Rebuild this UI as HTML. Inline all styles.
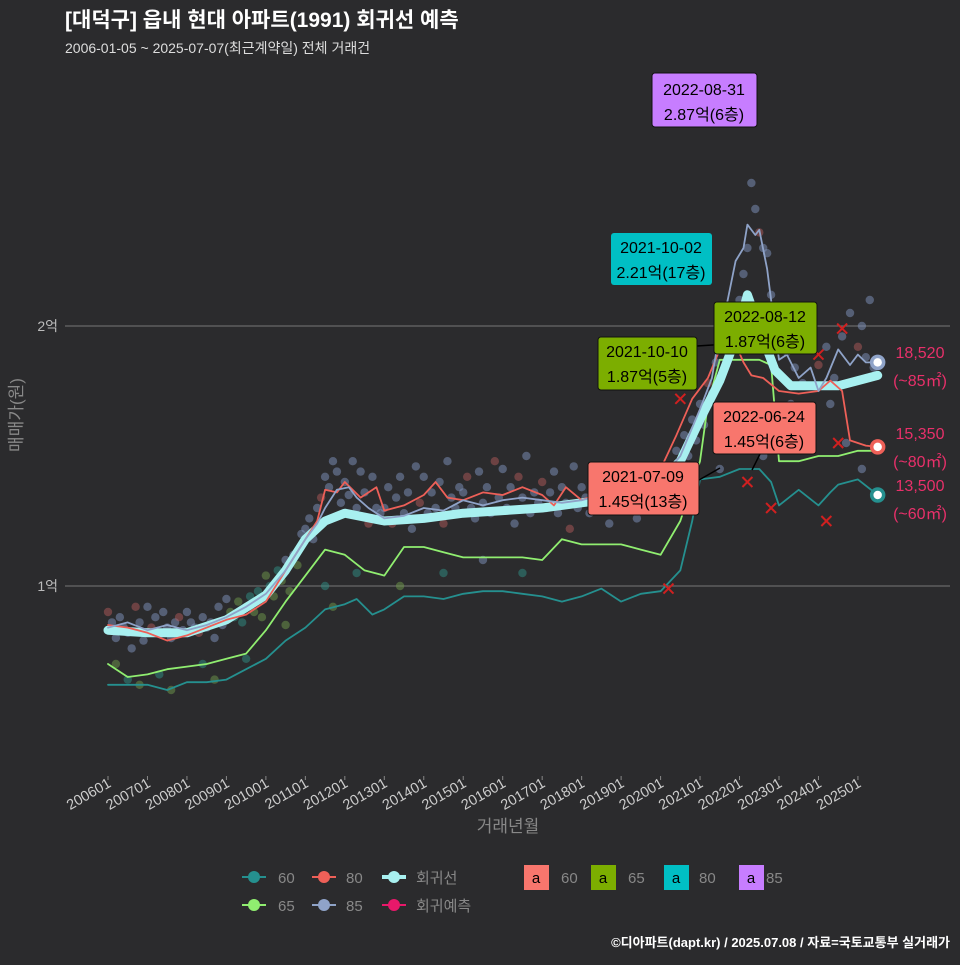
<!DOCTYPE html>
<html><head><meta charset="utf-8">
<style>
html,body{margin:0;padding:0;background:#2b2b2d;}
body{width:960px;height:960px;overflow:hidden;font-family:"Liberation Sans","Noto Sans CJK KR",sans-serif;}
</style></head>
<body>
<svg id="chart" width="960" height="960" xmlns="http://www.w3.org/2000/svg" style="font-family:'Liberation Sans','Noto Sans CJK KR',sans-serif">
<rect width="960" height="960" fill="#2b2b2d"/>
<text x="65" y="27" fill="#ffffff" font-size="21" font-weight="bold">[대덕구] 읍내 현대 아파트(1991) 회귀선 예측</text>
<text x="65" y="53" fill="#dddddd" font-size="14">2006-01-05 ~ 2025-07-07(최근계약일) 전체 거래건</text>
<text transform="translate(22,415) rotate(-90)" text-anchor="middle" fill="#888" font-size="17">매매가(원)</text>
<text x="508" y="832" text-anchor="middle" fill="#888" font-size="17">거래년월</text>
<g id="grid"></g>
<g id="plot"></g>
<g id="xaxis"></g>
<text x="950" y="947" text-anchor="end" fill="#fff" font-size="13" font-weight="bold">©디아파트(dapt.kr) / 2025.07.08 / 자료=국토교통부 실거래가</text>
</svg>
<script>
// ---- data (values in 억 KRW, time in decimal years) ----
const tickLabels=["200601","200701","200801","200901","201001","201101","201201","201301","201401","201501","201601","201701","201801","201901","202001","202101","202201","202301","202401","202501"];
const yTicks=[1,2];
const yTickLabels=["1억","2억"];
const tReg=[2006,2007,2008,2009,2010,2010.5,2011,2011.5,2012,2013,2014,2015,2016,2017,2018,2019,2020,2020.5,2021,2021.5,2021.9,2022.2,2022.6,2022.9,2023.3,2024,2024.5,2025,2025.5];
const vReg=[0.83,0.82,0.82,0.87,0.965,1.06,1.18,1.25,1.28,1.25,1.26,1.28,1.29,1.30,1.32,1.34,1.41,1.48,1.64,1.79,1.95,2.12,1.95,1.83,1.77,1.77,1.77,1.79,1.81];
const t85=[2006,2006.5,2007,2007.5,2008,2008.5,2009,2009.5,2010,2010.5,2011,2011.3,2011.5,2011.8,2012.1,2012.3,2012.6,2013,2013.5,2014,2014.5,2015,2015.5,2016,2016.5,2017,2017.5,2018,2018.5,2019,2019.5,2020,2020.5,2021,2021.3,2021.5,2021.7,2021.9,2022.1,2022.2,2022.4,2022.5,2022.7,2022.8,2023,2023.2,2023.5,2023.8,2024,2024.2,2024.5,2024.8,2025,2025.2,2025.5];
const v85=[0.84,0.86,0.83,0.85,0.83,0.85,0.88,0.92,0.97,1.06,1.18,1.24,1.30,1.37,1.38,1.34,1.30,1.26,1.27,1.30,1.29,1.33,1.31,1.33,1.34,1.33,1.32,1.33,1.35,1.34,1.37,1.41,1.50,1.68,1.80,1.98,2.10,2.25,2.30,2.39,2.35,2.37,2.22,2.10,1.87,1.89,1.80,1.84,1.75,1.80,1.91,1.85,1.89,1.86,1.86];
const t80=[2006,2006.5,2007,2007.5,2008,2008.5,2009,2009.5,2010,2010.5,2011,2011.3,2011.5,2011.8,2012,2012.4,2012.8,2013,2013.5,2014,2014.3,2014.6,2015,2015.5,2016,2016.5,2017,2017.3,2017.6,2018,2018.5,2019,2019.5,2020,2020.4,2020.8,2021.2,2021.5,2021.8,2021.9,2022.1,2022.3,2022.6,2023,2023.5,2024,2024.3,2024.6,2024.8,2025.2,2025.5];
const v80=[0.85,0.84,0.82,0.79,0.81,0.84,0.87,0.89,0.94,1.06,1.18,1.25,1.37,1.36,1.40,1.34,1.38,1.29,1.31,1.35,1.40,1.34,1.33,1.36,1.35,1.38,1.35,1.31,1.38,1.33,1.36,1.33,1.36,1.45,1.58,1.72,1.80,1.91,1.97,1.93,1.86,1.81,1.80,1.75,1.74,1.75,1.79,1.75,1.56,1.54,1.535];
const t65=[2006,2006.5,2007,2007.5,2008,2008.5,2009,2009.5,2010,2010.5,2011,2011.5,2012,2012.5,2013,2013.5,2014,2014.5,2015,2015.5,2016,2016.5,2017,2017.5,2018,2018.5,2019,2019.5,2020,2020.5,2021,2021.2,2021.5,2022,2022.5,2022.8,2023,2023.5,2024,2024.5,2025,2025.5];
const v65=[0.70,0.65,0.66,0.68,0.69,0.70,0.72,0.74,0.83,0.94,1.04,1.14,1.12,1.06,1.04,1.15,1.15,1.13,1.11,1.11,1.11,1.11,1.10,1.18,1.16,1.16,1.16,1.14,1.12,1.25,1.48,1.70,1.87,1.87,1.87,1.85,1.48,1.48,1.50,1.50,1.52,1.52];
const t60=[2006,2006.5,2007,2007.5,2008,2008.5,2009,2009.5,2010,2010.5,2011,2011.5,2012,2012.3,2012.7,2013,2013.5,2014,2014.5,2015,2015.5,2016,2016.5,2017,2017.5,2018,2018.5,2019,2019.5,2020,2020.5,2020.8,2021,2021.5,2022,2022.5,2022.8,2023,2023.5,2024,2024.3,2024.5,2025,2025.5];
const v60=[0.62,0.62,0.62,0.60,0.63,0.63,0.64,0.68,0.72,0.79,0.84,0.91,0.93,0.95,0.89,0.91,0.96,0.96,0.95,0.97,0.98,0.98,0.97,0.96,0.94,0.96,0.99,0.94,0.97,0.98,1.06,1.25,1.41,1.42,1.45,1.45,1.40,1.31,1.37,1.31,1.36,1.39,1.41,1.35];
const scT=[
2006.0,2006.1,2006.2,2006.3,2006.4,2006.5,2006.6,2006.7,2006.8,2006.9,2006.2,2006.5,2006.8,
2007.0,2007.1,2007.2,2007.3,2007.4,2007.5,2007.6,2007.7,2007.8,2007.9,2007.3,2007.6,
2008.0,2008.1,2008.2,2008.3,2008.4,2008.5,2008.6,2008.7,2008.8,2008.9,2008.4,2008.7,
2009.0,2009.1,2009.2,2009.3,2009.4,2009.5,2009.6,2009.7,2009.8,2009.9,2009.5,
2010.0,2010.1,2010.2,2010.3,2010.4,2010.5,2010.6,2010.7,2010.8,2010.9,2010.5,
2011.0,2011.1,2011.2,2011.3,2011.4,2011.5,2011.6,2011.7,2011.8,2011.9,2011.5,2011.7,
2012.0,2012.1,2012.2,2012.3,2012.4,2012.5,2012.6,2012.7,2012.8,2012.9,2012.3,
2013.0,2013.1,2013.2,2013.3,2013.4,2013.5,2013.6,2013.7,2013.8,2013.9,2013.4,
2014.0,2014.1,2014.2,2014.3,2014.4,2014.5,2014.6,2014.7,2014.8,2014.9,2014.5,
2015.0,2015.1,2015.2,2015.3,2015.4,2015.5,2015.6,2015.7,2015.8,2015.9,2015.5,
2016.0,2016.1,2016.2,2016.3,2016.4,2016.5,2016.6,2016.7,2016.8,2016.9,2016.5,
2017.0,2017.1,2017.2,2017.3,2017.4,2017.5,2017.6,2017.7,2017.8,2017.9,
2018.0,2018.1,2018.2,2018.3,2018.4,2018.5,2018.6,2018.7,2018.8,2018.9,
2019.0,2019.1,2019.2,2019.3,2019.4,2019.5,2019.6,2019.7,2019.8,2019.9,
2020.0,2020.1,2020.2,2020.3,2020.4,2020.5,2020.6,2020.7,2020.8,2020.9,
2021.0,2021.1,2021.2,2021.3,2021.4,2021.5,2021.6,2021.7,2021.8,2021.9,2021.5,
2022.0,2022.1,2022.2,2022.3,2022.4,2022.5,2022.6,2022.7,2022.8,2022.9,2022.3,2022.6,
2023.0,2023.2,2023.4,2023.6,2023.8,2023.3,2023.7,
2024.0,2024.2,2024.4,2024.6,2024.8,2024.3,2024.7,
2025.0,2025.1,2025.2,2025.3,2025.4,2025.1];
const scV=[
0.90,0.86,0.80,0.88,0.84,0.82,0.76,0.92,0.86,0.79,0.70,0.64,0.62,
0.92,0.84,0.88,0.82,0.90,0.84,0.80,0.86,0.88,0.83,0.66,0.60,
0.90,0.86,0.84,0.82,0.88,0.84,0.86,0.80,0.92,0.85,0.70,0.64,
0.95,0.90,0.88,0.94,0.86,0.92,0.96,0.90,0.98,0.88,0.72,
1.04,1.00,0.96,1.06,1.02,1.10,0.98,1.12,1.08,1.20,0.85,
1.22,1.26,1.18,1.30,1.34,1.42,1.38,1.48,1.44,1.32,1.00,0.92,
1.40,1.35,1.48,1.30,1.44,1.36,1.24,1.42,1.30,1.28,1.05,
1.30,1.38,1.24,1.34,1.42,1.28,1.36,1.22,1.46,1.32,1.00,
1.42,1.28,1.36,1.30,1.40,1.24,1.48,1.34,1.30,1.38,1.05,
1.36,1.42,1.30,1.26,1.44,1.32,1.38,1.28,1.48,1.34,1.10,
1.45,1.30,1.38,1.24,1.42,1.34,1.50,1.28,1.36,1.32,1.05,
1.40,1.30,1.36,1.44,1.28,1.38,1.32,1.22,1.46,1.30,
1.38,1.34,1.28,1.42,1.36,1.30,1.46,1.24,1.38,1.32,
1.44,1.30,1.36,1.40,1.26,1.38,1.34,1.42,1.30,1.36,
1.46,1.38,1.42,1.34,1.52,1.44,1.58,1.50,1.64,1.56,
1.70,1.62,1.78,1.74,1.86,1.80,1.96,1.90,2.04,1.98,1.45,
2.10,2.20,2.30,2.55,2.45,2.36,2.30,2.28,2.12,2.00,1.60,1.50,
1.95,1.90,1.84,1.78,1.92,1.70,1.60,
1.85,1.92,1.80,1.96,2.05,1.70,1.55,
1.92,2.00,1.88,2.10,1.84,1.45];
const xMarkT=[2020.2,2020.5,2022.2,2022.8,2024.0,2024.2,2024.5,2024.6];
const xMarkV=[0.99,1.72,1.40,1.30,1.89,1.25,1.55,1.99];

// ---- scales ----
const X=t=>108+(t-2006)*39.47;
const Y=v=>846-v*260;
const NS="http://www.w3.org/2000/svg";
function mk(tag,attrs,parent){const e=document.createElementNS(NS,tag);for(const k in attrs)e.setAttribute(k,attrs[k]);parent.appendChild(e);return e;}
const grid=document.getElementById('grid'),plot=document.getElementById('plot'),xax=document.getElementById('xaxis');

yTicks.forEach((v,i)=>{
  const l=mk('line',{x1:65,x2:950,y1:Y(v),y2:Y(v),stroke:'#777','stroke-width':1},grid);
  
  
  const t=mk('text',{x:58,y:Y(v)+5,'text-anchor':'end',fill:'#bbb','font-size':14},grid);
  t.textContent=yTickLabels[i];
  
  
});
tickLabels.forEach((s,i)=>{
  const yr=+s.slice(0,4);const x=X(yr);
  const tk=mk('line',{x1:x,x2:x,y1:776,y2:780,stroke:'#888'},xax);
  
  
  const t=mk('text',{transform:`translate(${x+4},786) rotate(-30)`,'text-anchor':'end',fill:'#ccc','font-size':14.5},xax);
  t.textContent=s;
  
  
});

// scatter
scT.forEach((t,i)=>{
  const v=scV[i];
  const low=(v<1.1 && t>2009)||(v<0.75);
  const col=low?(i%2?'#2f8f86':'#6f9a4c'):(i%7==0?'#b05a5a':'#7f93bd');
  const c=mk('circle',{cx:X(t),cy:Y(v),r:4.2,fill:col,'fill-opacity':0.5},plot);
  
  
});
function line(ts,vs,col,w,name){
  const d=ts.map((t,i)=>(i?'L':'M')+X(t).toFixed(1)+','+Y(vs[i]).toFixed(1)).join('');
  const p=mk('path',{d:d,fill:'none',stroke:col,'stroke-width':w,'stroke-linejoin':'round','stroke-linecap':'round'},plot);
  
  
}
line(t60,v60,'#25908f',1.8,'line-60');
line(t65,v65,'#90ee70',1.8,'line-65');
line(tReg,vReg,'#a8f0f0',9,'regression-line');
line(t80,v80,'#ee6058',1.8,'line-80');
line(t85,v85,'#8fa3c8',1.8,'line-85');
xMarkT.forEach((t,i)=>{
  const x=X(t),y=Y(xMarkV[i]);
  const p=mk('path',{d:`M${x-5},${y-5}L${x+5},${y+5}M${x-5},${y+5}L${x+5},${y-5}`,stroke:'#d02020','stroke-width':2},plot);
  
  
});
[[v85[v85.length-1],'#8fa3c8','end-point-85'],[v80[v80.length-1],'#ee6058','end-point-80'],[v60[v60.length-1],'#25908f','end-point-60']].forEach(a=>{
  const c=mk('circle',{cx:X(2025.5),cy:Y(a[0]),r:6,fill:'#fff',stroke:a[1],'stroke-width':3.5},plot);
  
  
});
</script>
<svg x="0" y="0" width="960" height="960" style="position:absolute;left:0;top:0" xmlns="http://www.w3.org/2000/svg" font-family="'Liberation Sans','Noto Sans CJK KR',sans-serif">
<g font-size="16" fill="#000" text-anchor="middle">
 <line x1="697" y1="346" x2="728" y2="344" stroke="#000" stroke-width="1.5"/>
 <line x1="699" y1="480" x2="720" y2="468" stroke="#000" stroke-width="1.5"/>
 <line x1="760" y1="454" x2="752" y2="470" stroke="#000" stroke-width="1.5"/>
 <g><rect x="652" y="73" width="105" height="54" rx="3" fill="#c77dff" stroke="#111"/><text x="704" y="95">2022-08-31</text><text x="704" y="120">2.87억(6층)</text></g>
 <g><rect x="611" y="233" width="101" height="52" rx="3" fill="#00bfc4"/><text x="661" y="253">2021-10-02</text><text x="661" y="278">2.21억(17층)</text></g>
 <g><rect x="714" y="302" width="103" height="52" rx="3" fill="#7cae00" stroke="#111"/><text x="765" y="322">2022-08-12</text><text x="765" y="347">1.87억(6층)</text></g>
 <g><rect x="598" y="337" width="99" height="53" rx="3" fill="#7cae00" stroke="#111"/><text x="647" y="357">2021-10-10</text><text x="647" y="382">1.87억(5층)</text></g>
 <g><rect x="713" y="402" width="103" height="52" rx="3" fill="#f8766d" stroke="#111"/><text x="764" y="422">2022-06-24</text><text x="764" y="447">1.45억(6층)</text></g>
 <g><rect x="588" y="462" width="111" height="53" rx="3" fill="#f8766d" stroke="#111"/><text x="643" y="482">2021-07-09</text><text x="643" y="507">1.45억(13층)</text></g>
</g>
<g font-size="16" fill="#e8306a" text-anchor="middle">
 <text x="920" y="358">18,520</text><text x="920" y="386">(~85㎡)</text>
 <text x="920" y="439">15,350</text><text x="920" y="467">(~80㎡)</text>
 <text x="920" y="491">13,500</text><text x="920" y="519">(~60㎡)</text>
</g>
<g font-size="15" fill="#888">
 <g><line x1="242" y1="877" x2="266" y2="877" stroke="#25908f" stroke-width="2"/><circle cx="254" cy="877" r="6" fill="#25908f"/><text x="278" y="883">60</text></g>
 <g><line x1="312" y1="877" x2="336" y2="877" stroke="#ee6058" stroke-width="2"/><circle cx="324" cy="877" r="6" fill="#ee6058"/><text x="346" y="883">80</text></g>
 <g><line x1="382" y1="877" x2="406" y2="877" stroke="#a8f0f0" stroke-width="4"/><circle cx="394" cy="877" r="6" fill="#a8f0f0"/><text x="416" y="883">회귀선</text></g>
 <g><line x1="242" y1="905" x2="266" y2="905" stroke="#90ee70" stroke-width="2"/><circle cx="254" cy="905" r="6" fill="#90ee70"/><text x="278" y="911">65</text></g>
 <g><line x1="312" y1="905" x2="336" y2="905" stroke="#8fa3c8" stroke-width="2"/><circle cx="324" cy="905" r="6" fill="#8fa3c8"/><text x="346" y="911">85</text></g>
 <g><line x1="382" y1="905" x2="406" y2="905" stroke="#e8186a" stroke-width="2"/><circle cx="394" cy="905" r="6" fill="#e8186a"/><text x="416" y="911">회귀예측</text></g>
 <g><rect x="524" y="865" width="25" height="25" fill="#f8766d"/><text x="536" y="883" fill="#000" text-anchor="middle">a</text><text x="561" y="883">60</text></g>
 <g><rect x="591" y="865" width="25" height="25" fill="#7cae00"/><text x="603" y="883" fill="#000" text-anchor="middle">a</text><text x="628" y="883">65</text></g>
 <g><rect x="664" y="865" width="25" height="25" fill="#00bfc4"/><text x="676" y="883" fill="#000" text-anchor="middle">a</text><text x="699" y="883">80</text></g>
 <g><rect x="739" y="865" width="25" height="25" fill="#c77dff"/><text x="751" y="883" fill="#000" text-anchor="middle">a</text><text x="766" y="883">85</text></g>
</g>
</svg>
</body></html>
